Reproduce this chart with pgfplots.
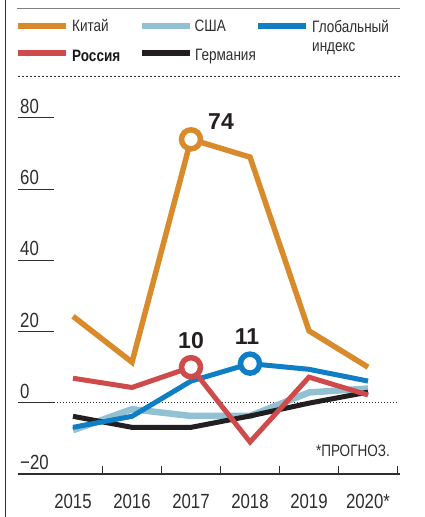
\documentclass[border=0pt]{standalone}
\usepackage{fontspec}
\setmainfont[FakeStretch=0.82]{Liberation Sans}
\newfontfamily\labfont{Liberation Sans}
\usepackage{pgfplots}
\pgfplotsset{compat=1.18}
\definecolor{cChina}{HTML}{D98B2B}
\definecolor{cUSA}{HTML}{92C1D4}
\definecolor{cGlob}{HTML}{0F7EC4}
\definecolor{cRus}{HTML}{CF4A4B}
\definecolor{cGer}{HTML}{231F20}
\definecolor{cText}{HTML}{2E2E2E}
\begin{document}
\begin{tikzpicture}[x=1pt,y=1pt]
\useasboundingbox (0,0) rectangle (424,517);
% frame
\draw[line width=1.6pt, color=cText] (5.5,0) -- (5.5,517);
\draw[line width=1.5pt, color=black!50] (17,508.7) -- (400,508.7);
\draw[line width=0.9pt, color=cText, dash pattern=on 2pt off 2pt] (18,440.3) -- (400,440.3);
% legend
\draw[cChina, line width=6pt] (18,491) -- (66,491);
\draw[cUSA, line width=6pt] (142,491) -- (190,491);
\draw[cGlob, line width=6pt] (258,491) -- (306,491);
\draw[cRus, line width=6pt] (18,463.5) -- (66,463.5);
\draw[cGer, line width=6pt] (142,463.5) -- (190,463.5);
\begin{scope}[every node/.style={inner sep=0pt, anchor=base west, text=cText, font=\fontsize{16.5}{19}\selectfont}]
\node at (72,485.3) {Китай};
\node at (194.5,485.3) {США};
\node at (312,484.6) {Глобальный};
\node at (312,465) {индекс};
\node[font=\fontsize{16.5}{19}\selectfont\bfseries, text=black!90] at (72,455.8) {Россия};
\node at (195,456.5) {Германия};
\node[anchor=base east] at (390,60.3) {*ПРОГНОЗ.};
\end{scope}
\begin{axis}[
  at={(18pt,43pt)}, anchor=south west,
  width=382pt, height=392pt, scale only axis,
  xmin=2014.068, xmax=2020.542, ymin=-20, ymax=90.1,
  axis x line=bottom, axis y line=left, axis line style={-},
  y axis line style={draw=none},
  x axis line style={line width=1.2pt, cText},
  xtick={2015,...,2020},
  xticklabels={2015,2016,2017,2018,2019,2020*},
  xtick style={draw=none},
  x tick label style={font=\fontsize{20.5}{24}\selectfont, anchor=base, inner sep=0pt, yshift=-34pt, text=cText},
  ytick={-20,0,20,40,60,80},
  yticklabels={−20,0,20,40,60,80},
  ytick style={line width=1pt, cText},
  tick align=inside, major tick length=36pt,
  y tick label style={font=\fontsize{20.5}{24}\selectfont, anchor=base west, inner sep=0pt, xshift=2pt, yshift=4.5pt, text=cText},
  clip=false,
]
\draw[line width=0.8pt, cText, dash pattern=on 1.5pt off 1.5pt] (axis cs:2014.678,0) -- (axis cs:2020.49,0);
\pgfplotsinvokeforeach{2015.5,2016.5,2017.5,2018.5,2019.5,2020.5}{
  \draw[line width=1pt, cText] (axis cs:#1,-20) -- ([yshift=8pt]axis cs:#1,-20);
}
% USA
\addplot[cUSA, line width=6.5pt] coordinates {(2015,-7.7)(2016,-1.8)(2017,-3.7)(2018,-3.7)(2019,2.9)(2020,4)};
% Germany
\addplot[cGer, line width=5pt] coordinates {(2015,-3.8)(2016,-6.9)(2017,-6.9)(2018,-3.7)(2019,-0.1)(2020,3)};
% Global
\addplot[cGlob, line width=5pt] coordinates {(2015,-6.9)(2016,-3.8)(2017,6.1)(2018,11)(2019,9.4)(2020,6.1)};
% Russia
\addplot[cRus, line width=5pt] coordinates {(2015,6.9)(2016,4.3)(2017,10)(2018,-11)(2019,7.2)(2020,2.2)};
% China
\addplot[cChina, line width=5.5pt] coordinates {(2015,24.3)(2016,11.4)(2017,74)(2018,69)(2019,20.2)(2020,10)};
% markers
\addplot[only marks, mark=*, mark size=9.5pt, mark options={draw=cGlob, fill=white, line width=5.5pt}] coordinates {(2018,11)};
\addplot[only marks, mark=*, mark size=9.5pt, mark options={draw=cRus, fill=white, line width=5.5pt}] coordinates {(2017,10)};
\addplot[only marks, mark=*, mark size=9.5pt, mark options={draw=cChina, fill=white, line width=5.5pt}] coordinates {(2017,74)};
% value labels
\node[inner sep=0pt, font=\labfont\bfseries\fontsize{23}{26}\selectfont, text=cGer] at ([xshift=30pt,yshift=17.5pt]axis cs:2017,74) {74};
\node[inner sep=0pt, font=\labfont\bfseries\fontsize{23}{26}\selectfont, text=cGer] at ([yshift=27pt]axis cs:2017,10) {10};
\node[inner sep=0pt, font=\labfont\bfseries\fontsize{23}{26}\selectfont, text=cGer] at ([xshift=-3pt,yshift=27pt]axis cs:2018,11) {11};
\end{axis}
\end{tikzpicture}
\end{document}
